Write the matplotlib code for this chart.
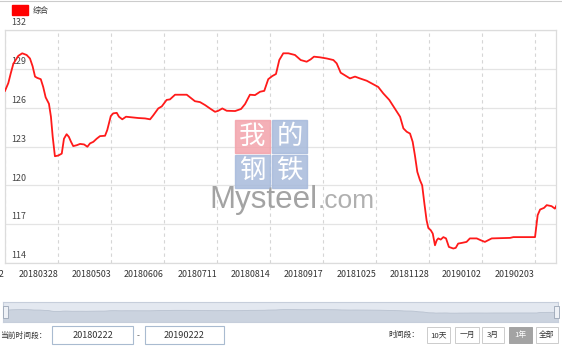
import matplotlib
matplotlib.use("Agg")
import matplotlib.pyplot as plt
from matplotlib.patches import Rectangle
from matplotlib.lines import Line2D

plt.rcParams['font.family'] = ['Noto Sans CJK SC', 'DejaVu Sans']

# Index des jours de cotation (0 = 20180222) et valeur de l'indice "综合"
jours = [0, 1.5, 2.6, 3.8, 6.0, 7.8, 9.8, 11.3, 12.5, 13.6, 14.6, 16.2, 17.3, 18.4,
         19.9, 20.8, 21.6, 22.6, 24.1, 25.7, 26.7, 27.9, 28.9, 29.9, 30.9, 32.5,
         34.0, 35.8, 37.3, 38.5, 40.0, 41.5, 43.0, 45.3, 46.3, 47.9, 49.0, 50.6,
         51.6, 53.1, 54.8, 57.4, 60.4, 63.4, 65.7, 67.1, 69.4, 71.0, 73.2, 74.7,
         77.0, 82.3, 83.8, 86.0, 88.3, 90.6, 92.8, 95.1, 96.6, 98.4, 100.4, 104.2,
         106.9, 108.7, 110.9, 113.2, 115.5, 117.4, 119.2, 121.0, 122.7, 124.2,
         126.0, 128.3, 131.3, 133.9, 136.6, 138.4, 139.9, 142.6, 145.7, 148.7,
         150.2, 152.0, 153.9, 156.2, 158.5, 160.7, 163.8, 166.8, 169.0, 171.3,
         174.0, 177.4, 178.9, 180.4, 181.9, 183.4, 184.6, 185.6, 186.7, 187.9,
         188.9, 189.9, 190.9, 191.7, 192.8, 193.7, 194.7, 195.5, 196.2, 197.3,
         198.5, 199.7, 201.0, 203.0, 204.1, 205.2, 206.8, 209.0, 210.5, 213.6,
         215.4, 217.3, 218.8, 220.4, 228.7, 230.2, 240.0, 241.2, 242.3, 244.1,
         245.3, 247.5, 249.0, 249.8]
valeurs = [127.3, 127.9, 128.65, 129.4, 130.0, 130.2, 130.07, 129.8, 129.2, 128.4,
           128.3, 128.2, 127.6, 126.8, 126.3, 125.3, 123.75, 122.25, 122.3, 122.45,
           123.6, 123.95, 123.75, 123.36, 123.03, 123.1, 123.2, 123.16, 122.98,
           123.24, 123.36, 123.6, 123.8, 123.83, 124.27, 125.35, 125.56, 125.6,
           125.3, 125.1, 125.3, 125.25, 125.2, 125.17, 125.1, 125.4, 125.94, 126.1,
           126.6, 126.64, 127.0, 127.0, 126.8, 126.5, 126.43, 126.2, 125.94, 125.68,
           125.76, 125.94, 125.76, 125.74, 125.9, 126.28, 127.0, 126.97, 127.23,
           127.3, 128.2, 128.44, 128.6, 129.68, 130.2, 130.2, 130.07, 129.68, 129.55,
           129.73, 129.94, 129.89, 129.8, 129.68, 129.42, 128.7, 128.5, 128.26,
           128.4, 128.26, 128.08, 127.8, 127.6, 127.1, 126.6, 125.7, 125.3, 124.4,
           124.14, 124.0, 123.36, 122.33, 121.04, 120.4, 120.0, 118.6, 117.3, 116.7,
           116.53, 116.27, 115.37, 115.76, 115.9, 115.81, 116.0, 115.9, 115.24,
           115.12, 115.17, 115.5, 115.55, 115.63, 115.9, 115.9, 115.76, 115.63,
           115.76, 115.9, 115.94, 116.0, 116.0, 117.7, 118.13, 118.26, 118.47,
           118.39, 118.2, 118.47]

positions_x = [0, 24, 48, 72, 96, 120, 144, 168, 192, 216, 240]
etiquettes_x = ["20180222", "20180328", "20180503", "20180606", "20180711",
                "20180814", "20180917", "20181025", "20181128", "20190102",
                "20190203"]
graduations_y = [114, 117, 120, 123, 126, 129, 132]
boutons = ["10天", "一月", "3月", "1年", "全部"]

W, H = 562, 346


def fx(x):
    return x / W


def fy(y):
    return 1 - y / H


fig = plt.figure(figsize=(W / 100, H / 100), dpi=100)

# --- Graphique principal ---
ax = fig.add_axes([fx(5), fy(263), (556 - 5) / W, (263 - 30) / H])
ax.set_xlim(0, 249.5)
ax.set_ylim(114, 132)
for y in graduations_y:
    ax.axhline(y, color="#e4e4e4", lw=0.9, zorder=1)
for x in positions_x:
    ax.axvline(x, color="#d6d6d6", lw=0.8, ls=(0, (3, 3)), zorder=1)
ax.set_xticks(positions_x)
ax.set_xticklabels(etiquettes_x, ha="right", fontsize=6.4, color="#333333")
ax.tick_params(axis="x", length=0, pad=5)
ax.set_yticks([])
for s in ax.spines.values():
    s.set_color("#dcdcdc")
    s.set_linewidth(0.9)

for y in graduations_y:
    ax.annotate(str(y), xy=(0.012, y), xycoords=("axes fraction", "data"),
                xytext=(0, 2), textcoords="offset points",
                ha="left", va="bottom", fontsize=6.4, color="#444444",
                annotation_clip=False)

# --- Filigrane Mysteel ---
couleurs_cases = ["#f3a3ab", "#a7badb", "#a7badb", "#a7badb"]
caracteres = ["我", "的", "钢", "铁"]
coins = [(235, 120), (272, 120), (235, 155), (272, 155)]
for (x0, y0), c, ch in zip(coins, couleurs_cases, caracteres):
    fig.patches.append(Rectangle((fx(x0), fy(y0 + 33)), 35 / W, 33 / H,
                                 transform=fig.transFigure, color=c,
                                 alpha=0.85, zorder=0))
    fig.text(fx(x0 + 17.5), fy(y0 + 16.5), ch, ha="center", va="center",
             fontsize=19, color="white", zorder=1)
fig.text(fx(318), fy(208), "Mysteel", ha="right", va="baseline",
         family="Liberation Sans", fontsize=22.5, color="#a3a3a3", zorder=1)
fig.text(fx(318), fy(208), ".com", ha="left", va="baseline",
         family="Liberation Sans", fontsize=19, color="#b0b0b0", zorder=1)

ax.set_facecolor("none")
ax.plot(jours, valeurs, color="#ff1a1a", lw=1.3, zorder=3)

# --- Légende ---
fig.patches.append(Rectangle((fx(12), fy(15)), 16 / W, 10 / H,
                             transform=fig.transFigure, color="#ff0000"))
fig.text(fx(33), fy(10), "综合", ha="left", va="center", fontsize=5.8,
         color="#333333")
fig.lines.append(Line2D([0, 1], [fy(0.5), fy(0.5)], transform=fig.transFigure,
                        color="#cccccc", lw=0.8))

# --- Navigateur ---
nav = fig.add_axes([fx(3), fy(322), (558 - 3) / W, 20 / H])
nav.set_facecolor("#e3e8f0")
nav.fill_between(jours, valeurs, 76, color="#cbd3df", lw=0.6,
                 edgecolor="#b9c2d0")
nav.set_xlim(0, 249.8)
nav.set_ylim(76, 160)
nav.set_xticks([])
nav.set_yticks([])
for s in nav.spines.values():
    s.set_color("#c6cedb")
    s.set_linewidth(0.8)
for xh in (3, 554):
    fig.patches.append(Rectangle((fx(xh), fy(318)), 5 / W, 12 / H,
                                 transform=fig.transFigure,
                                 facecolor="#eef1f6", edgecolor="#9aa5b5",
                                 lw=0.6, zorder=5))

# --- Sélecteur de période ---
fig.text(fx(0), fy(336), "当前时间段：", ha="left", va="center", fontsize=5.6,
         color="#333333")
for x0, x1, txt in [(52, 133, "20180222"), (145, 224, "20190222")]:
    fig.patches.append(Rectangle((fx(x0), fy(344)), (x1 - x0) / W, 18 / H,
                                 transform=fig.transFigure, facecolor="white",
                                 edgecolor="#a9bbd0", lw=0.8))
    fig.text(fx((x0 + x1) / 2), fy(335), txt, ha="center", va="center",
             fontsize=6.6, color="#333333")
fig.text(fx(138), fy(336), "-", ha="center", va="center", fontsize=6,
         color="#666666")

fig.text(fx(388), fy(335), "时间段：", ha="left", va="center", fontsize=5.6,
         color="#333333")
bords = [(427, 450), (455, 479), (482, 504), (509, 532), (536, 558)]
for (x0, x1), txt in zip(bords, boutons):
    actif = txt == "1年"
    fig.patches.append(Rectangle((fx(x0), fy(343)), (x1 - x0) / W, 16 / H,
                                 transform=fig.transFigure,
                                 facecolor="#a3a3a3" if actif else "white",
                                 edgecolor="#a3a3a3" if actif else "#cccccc",
                                 lw=0.7))
    fig.text(fx((x0 + x1) / 2), fy(335), txt, ha="center", va="center",
             fontsize=5.6, color="white" if actif else "#333333")

fig.savefig("out.png", dpi=100)
